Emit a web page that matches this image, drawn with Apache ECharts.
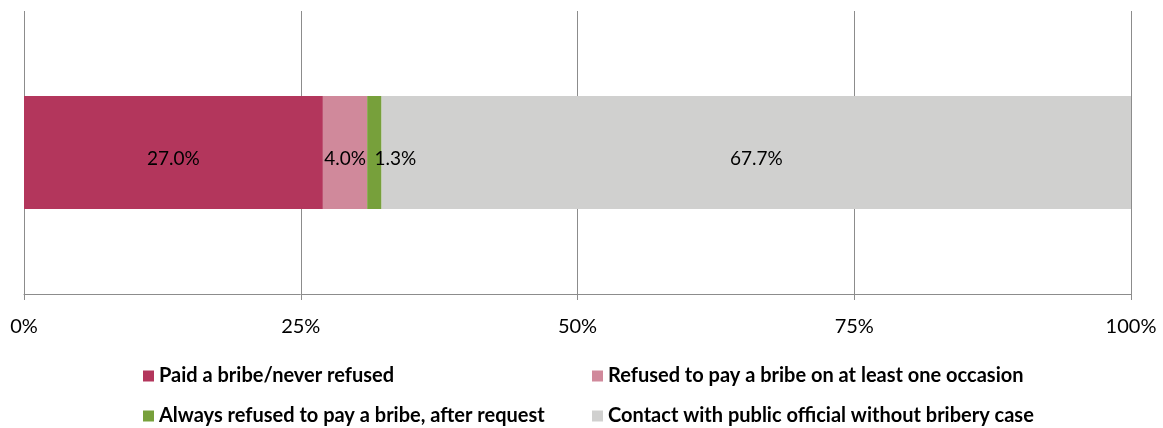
<!DOCTYPE html>
<html><head><meta charset="utf-8">
<script src="https://cdn.jsdelivr.net/npm/echarts@6/dist/echarts.min.js"></script>
<style>html,body{margin:0;padding:0;background:#fff}#c{width:1163px;height:428px}</style>
</head><body><div id="c"></div>
<script>
var categories = [''];
var seriesNames = ['Paid a bribe/never refused','Refused to pay a bribe on at least one occasion','Always refused to pay a bribe, after request','Contact with public official without bribery case'];
var paid = [27.0];
var refusedOnce = [4.0];
var alwaysRefused = [1.3];
var noBribery = [67.7];
var tickLabels = ['0%','25%','50%','75%','100%'];
var colors = ['#B3365C','#D0899B','#77A03B','#D0D0CF'];
var values = [paid, refusedOnce, alwaysRefused, noBribery];
var font = 'Lato, "Open Sans", sans-serif';
var chart = echarts.init(document.getElementById('c'));
var series = values.map(function(v,i){
  return {
    name: seriesNames[i], type:'bar', stack:'s', data:v, barWidth:113,
    itemStyle:{color:colors[i]},
    label:{show:true, position:'inside', offset: i===2?[21,6]:[0,6], color:'#000', fontSize:19, fontFamily:font,
      formatter:function(p){return p.value.toFixed(1)+'%';}},
    emphasis:{disabled:true}
  };
});
var legendPos = [[143,366],[592,366],[143,406],[592,406]];
var legends = seriesNames.map(function(n,i){
  return {data:[n],left:legendPos[i][0],top:legendPos[i][1],itemWidth:11,itemHeight:11,itemGap:5,padding:0,
    icon:'rect',selectedMode:false,
    textStyle:{fontSize:20,fontWeight:'bold',fontFamily:font,color:'#000'}};
});
chart.setOption({
  animation:false,
  grid:{left:24,right:32,top:11,bottom:134,containLabel:false},
  xAxis:{type:'value',min:0,max:100,interval:25,
    axisLine:{show:true,lineStyle:{color:'#8C8C8C',width:1}},
    axisTick:{show:true,length:6,lineStyle:{color:'#8C8C8C'}},
    splitLine:{show:true,lineStyle:{color:'#8C8C8C',width:1}},
    axisLabel:{margin:23,color:'#000',fontSize:20,fontFamily:font,
      formatter:function(v){return tickLabels[Math.round(v/25)];}}},
  yAxis:{type:'category',data:categories,axisLine:{show:false},axisTick:{show:false},axisLabel:{show:false},splitLine:{show:false}},
  legend:legends,
  series:series
});
</script></body></html>
